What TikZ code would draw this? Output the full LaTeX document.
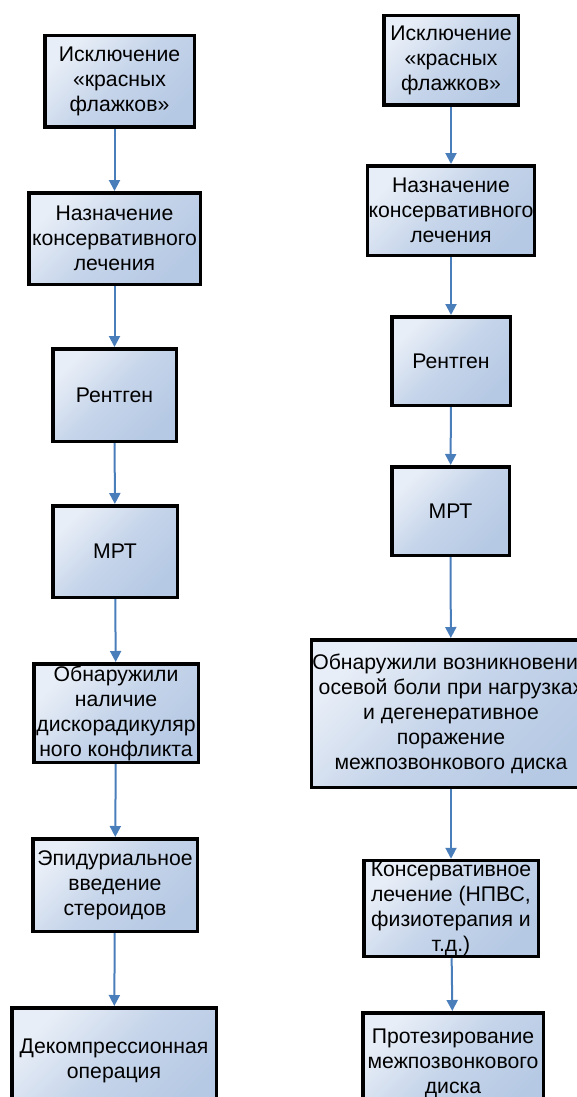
\documentclass[tikz,border=0pt]{standalone}
\usepackage{fontspec}
\setmainfont{Liberation Sans}
\usetikzlibrary{arrows.meta}
\definecolor{boxlight}{HTML}{E8EEF7}
\definecolor{boxdark}{HTML}{B6C9E4}
\definecolor{arrowblue}{HTML}{4A7EBB}

\begin{document}
\begin{tikzpicture}[x=1pt,y=-1pt]

        \useasboundingbox (0,0) rectangle (577,1097);

        \begin{scope}[every node/.style={draw,line width=3.5pt,rectangle,
            top color=boxlight,bottom color=boxdark,middle color=boxdark!70!boxlight,
            shading angle=45,align=center,inner sep=1pt,
            font=\fontsize{21.2}{25}\selectfont}]
          % left column
          \node[minimum width=149.5pt,minimum height=91.5pt] (1) at (119.5,81.5)  {Исключение\\«красных\\флажков»};
          \node[minimum width=171.5pt,minimum height=91.5pt] (2) at (114.5,238.5) {Назначение\\консервативного\\лечения};
          \node[minimum width=123.5pt,minimum height=92.5pt] (3) at (114.5,395)   {Рентген};
          \node[minimum width=124.5pt,minimum height=91.5pt] (4) at (115,551.5)   {МРТ};
          \node[minimum width=164.5pt,minimum height=98.5pt] (5) at (116,713)     {Обнаружили\\наличие\\дискорадикуляр\\ного конфликта};
          \node[minimum width=164.5pt,minimum height=92.5pt] (6) at (115,885)     {Эпидуриальное\\введение\\стероидов};
          \node[minimum width=204.5pt,minimum height=106.5pt] (7) at (114,1061)   {Декомпрессионная\\операция};
          % right column
          \node[minimum width=134.5pt,minimum height=89.5pt] (11) at (451,60.5)   {Исключение\\«красных\\флажков»};
          \node[minimum width=164.5pt,minimum height=89.5pt] (12) at (451,210.5)  {Назначение\\консервативного\\лечения};
          \node[minimum width=118.5pt,minimum height=88.5pt] (13) at (451,361)    {Рентген};
          \node[minimum width=117.5pt,minimum height=88.5pt] (14) at (450.5,511)  {МРТ};
          \node[minimum width=270.5pt,minimum height=147.5pt] (15) at (451,713.5) {Обнаружили возникновение\\осевой боли при нагрузках\\и дегенеративное\\поражение\\межпозвонкового диска};
          \node[minimum width=174.5pt,minimum height=95.5pt] (16) at (451,908.5)  {Консервативное\\лечение (НПВС,\\физиотерапия и\\т.д.)};
          \node[minimum width=180.5pt,minimum height=100.5pt] (17) at (453,1063)  {Протезирование\\межпозвонкового\\диска};
        \end{scope}

        \begin{scope}[every edge/.style={draw,arrowblue,line width=2pt,
            -{Triangle[width=11pt,length=11pt]}}]
          \path (2.north |- 1.south) edge (2);
          \path (2) edge (3);
          \path (3) edge (4);
          \path (4) edge (5);
          \path (5) edge (6);
          \path (6) edge (7);
          \path (11) edge (12);
          \path (12) edge (13);
          \path (13) edge (14);
          \path (14) edge (15);
          \path (15) edge (16);
          \path (16) edge (17);
        \end{scope}

      \end{tikzpicture}
\end{document}
